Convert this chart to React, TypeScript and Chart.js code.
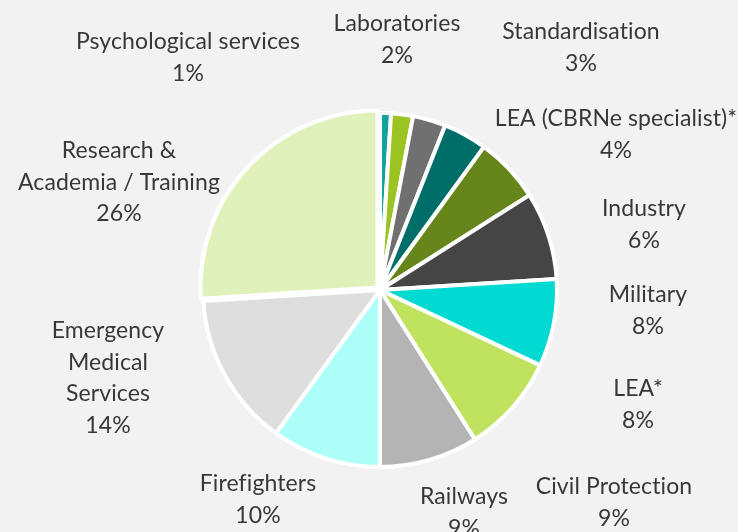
import React, { useEffect, useRef } from "react";
import { Chart, registerables } from "chart.js";

Chart.register(...registerables);

// ---- data ----
const categories = [
  "Psychological services",
  "Laboratories",
  "Standardisation",
  "LEA (CBRNe specialist)*",
  "Industry",
  "Military",
  "LEA*",
  "Civil Protection",
  "Railways",
  "Firefighters",
  "Emergency Medical Services",
  "Research & Academia / Training",
];
const shares = [1, 2, 3, 4, 6, 8, 8, 9, 9, 10, 14, 26];
const labelLines = [
  ["Psychological services"],
  ["Laboratories"],
  ["Standardisation"],
  ["LEA (CBRNe specialist)*"],
  ["Industry"],
  ["Military"],
  ["LEA*"],
  ["Civil Protection"],
  ["Railways"],
  ["Firefighters"],
  ["Emergency", "Medical", "Services"],
  ["Research &", "Academia / Training"],
];

// ---- styles / layout ----
const sliceColors = [
  "#13a39d",
  "#9bc322",
  "#707070",
  "#006e68",
  "#66851b",
  "#454545",
  "#00dad2",
  "#bfe35f",
  "#b4b4b4",
  "#adfffa",
  "#dedede",
  "#e1f1bc",
];
// label block position (first line centre) relative to pie centre
const labelOffsets: [number, number][] = [
  [-192, -248],
  [17, -266],
  [201, -258],
  [236, -171],
  [264, -81],
  [268, 5],
  [258, 99],
  [234, 197],
  [84, 207],
  [-122, 194],
  [-272, 41],
  [-261, -139],
];
const explodedIndex = 11;
const explodeDist = 3.5;
const LINE_H = 31.5;
const FONT = "23px Lato";
const TEXT_COLOR = "#383838";

const explodePlugin = {
  id: "explode",
  beforeDatasetsDraw(chart: any) {
    const meta = chart.getDatasetMeta(0);
    const el = meta.data[explodedIndex];
    if (!el || el.__exploded) return;
    const orig = el.draw;
    el.draw = function (ctx: CanvasRenderingContext2D, area: any) {
      const mid = (this.startAngle + this.endAngle) / 2;
      ctx.save();
      ctx.translate(Math.cos(mid) * explodeDist, Math.sin(mid) * explodeDist);
      orig.call(this, ctx, area);
      ctx.restore();
    };
    el.__exploded = true;
  },
};

const labelPlugin = {
  id: "sliceLabels",
  afterDatasetsDraw(chart: any) {
    const meta = chart.getDatasetMeta(0);
    const ctx: any = chart.ctx;
    const first = meta.data[0];
    const cx = first.x;
    const cy = first.y;
    const total = shares.reduce((a, b) => a + b, 0);
    ctx.save();
    ctx.font = FONT;
    ctx.fillStyle = TEXT_COLOR;
    ctx.textAlign = "center";
    ctx.textBaseline = "middle";
    if ("letterSpacing" in ctx) ctx.letterSpacing = "0.1px";
    meta.data.forEach((_el: any, i: number) => {
      const lines = [...labelLines[i], Math.round((shares[i] / total) * 100) + "%"];
      const [ox, oy] = labelOffsets[i];
      lines.forEach((t, j) => {
        ctx.fillText(t, cx + ox, cy + oy + j * LINE_H);
      });
    });
    ctx.restore();
  },
};

export default function App() {
  const ref = useRef<HTMLCanvasElement | null>(null);
  useEffect(() => {
    document.body.style.margin = "0";
    document.body.style.background = "#f2f2f2";
    const canvas = ref.current!;
    const chart = new Chart(canvas, {
      type: "pie",
      data: {
        labels: categories,
        datasets: [
          {
            data: shares,
            backgroundColor: sliceColors,
            borderColor: "#ffffff",
            borderWidth: 4,
          },
        ],
      },
      options: {
        animation: false,
        responsive: false,
        radius: 177,
        layout: { padding: { left: 22, right: 0, top: 48, bottom: 0 } },
        plugins: {
          legend: { display: false },
          tooltip: { enabled: false },
        },
      } as any,
      plugins: [explodePlugin, labelPlugin],
    });
    return () => chart.destroy();
  }, []);
  return (
    <div style={{ width: 738, height: 532, background: "#f2f2f2" }}>
      <canvas ref={ref} width={738} height={532} style={{ display: "block" }} />
    </div>
  );
}
